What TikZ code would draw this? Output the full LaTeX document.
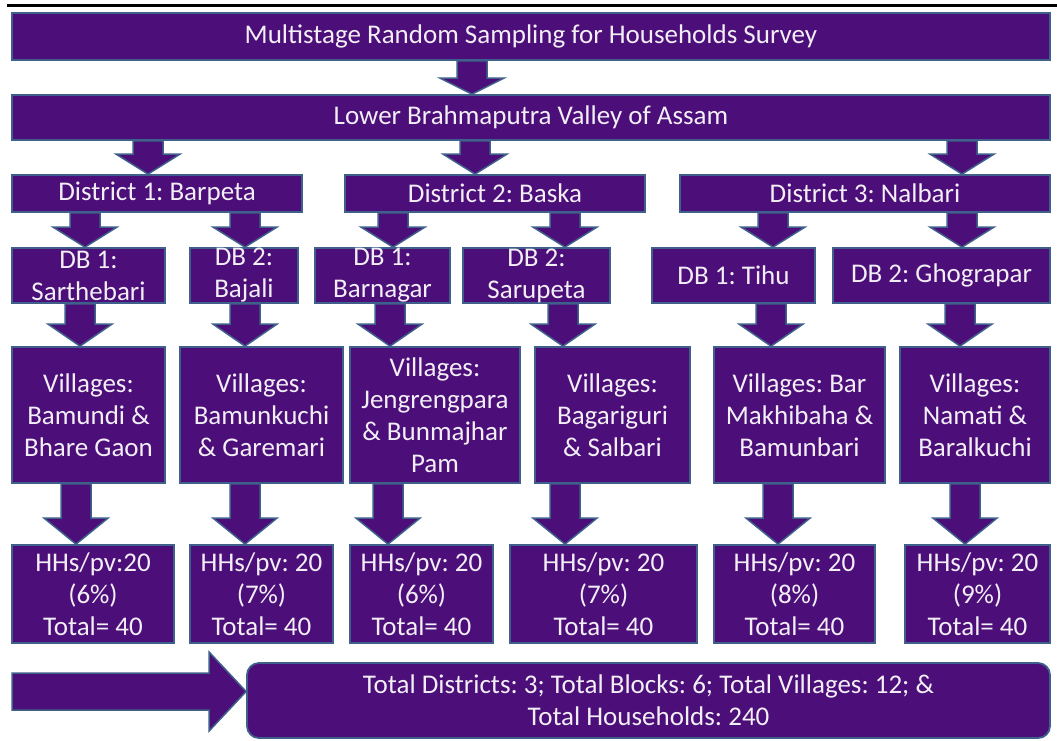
\documentclass[tikz,border=0pt]{standalone}
\usepackage{fontspec}
\setmainfont{Carlito}
\frenchspacing
\usetikzlibrary{calc}

\definecolor{boxfill}{RGB}{76,14,120}
\definecolor{boxline}{RGB}{62,96,138}
\definecolor{boxtext}{RGB}{242,238,246}

\tikzset{
  cell/.style={draw=boxline, fill=boxfill, line width=1.8pt, text=boxtext,
    align=center, inner sep=0pt, font=\fontsize{27}{32}\selectfont},
  flow/.style={draw=boxline, fill=boxfill, line width=1.5pt, line join=miter}
}

% block arrow pointing down: x, from node, to node, head length
\newcommand{\flowdown}[4]{%
  \draw[flow] let \p1=(#1,0 |- #2.south), \p2=(#1,0 |- #3.north) in
    (\x1-15pt,\y1) -- (\x1-15pt,\y2+#4pt) -- (\x1-32pt,\y2+#4pt) -- (\x1,\y2)
    -- (\x1+32pt,\y2+#4pt) -- (\x1+15pt,\y2+#4pt) -- (\x1+15pt,\y1) -- cycle;
}

\begin{document}
\begin{tikzpicture}[x=1pt, y=-1pt]
  \useasboundingbox (0,0) rectangle (1057,740);
  \draw[line width=3pt] (7,5.5) -- (1057,5.5);

  % levels
  \node[cell, minimum width=1038pt, minimum height=47pt] (survey) at (531,36.5) {Multistage Random Sampling for Households Survey};
  \node[cell, minimum width=1038pt, minimum height=45pt] (valley) at (531,117.5) {Lower Brahmaputra Valley of Assam};

  \node[cell, minimum width=290pt, minimum height=37pt] (barpeta) at (157,193.5) {District 1: Barpeta};
  \node[cell, minimum width=300pt, minimum height=37pt] (baska) at (495,193.5) {District 2: Baska};
  \node[cell, minimum width=370pt, minimum height=37pt] (nalbari) at (865,193.5) {District 3: Nalbari};

  \node[cell, minimum width=153pt, minimum height=55pt] (sarthebari) at (88.5,275.5) {DB 1:\\Sarthebari};
  \node[cell, minimum width=108pt, minimum height=55pt] (bajali) at (244,275.5) {DB 2:\\Bajali};
  \node[cell, minimum width=135pt, minimum height=55pt] (barnagar) at (382.5,275.5) {DB 1:\\Barnagar};
  \node[cell, minimum width=147pt, minimum height=55pt] (sarupeta) at (536.5,275.5) {DB 2:\\Sarupeta};
  \node[cell, minimum width=163pt, minimum height=55pt] (tihu) at (733.5,275.5) {DB 1: Tihu};
  \node[cell, minimum width=217pt, minimum height=55pt] (ghograpar) at (941.5,275.5) {DB 2: Ghograpar};

  \node[cell, minimum width=153pt, minimum height=136pt] (vil1) at (88.5,415) {Villages:\\Bamundi \&\\Bhare Gaon};
  \node[cell, minimum width=163pt, minimum height=136pt] (vil2) at (261.5,415) {Villages:\\Bamunkuchi\\\& Garemari};
  \node[cell, minimum width=170pt, minimum height=136pt] (vil3) at (435,415) {Villages:\\Jengrengpara\\\& Bunmajhar\\Pam};
  \node[cell, minimum width=155pt, minimum height=136pt] (vil4) at (612.5,415) {Villages:\\Bagariguri\\\& Salbari};
  \node[cell, minimum width=171pt, minimum height=136pt] (vil5) at (799.5,415) {Villages: Bar\\Makhibaha \&\\Bamunbari};
  \node[cell, minimum width=150pt, minimum height=136pt] (vil6) at (975,415) {Villages:\\Namati \&\\Baralkuchi};

  \node[cell, minimum width=162pt, minimum height=98pt] (hh1) at (93,594) {HHs/pv:20\\(6\%)\\Total= 40};
  \node[cell, minimum width=143pt, minimum height=98pt] (hh2) at (261.5,594) {HHs/pv: 20\\(7\%)\\Total= 40};
  \node[cell, minimum width=143pt, minimum height=98pt] (hh3) at (421.5,594) {HHs/pv: 20\\(6\%)\\Total= 40};
  \node[cell, minimum width=187pt, minimum height=98pt] (hh4) at (603.5,594) {HHs/pv: 20\\(7\%)\\Total= 40};
  \node[cell, minimum width=161pt, minimum height=98pt] (hh5) at (794.5,594) {HHs/pv: 20\\(8\%)\\Total= 40};
  \node[cell, minimum width=145pt, minimum height=98pt] (hh6) at (977.5,594) {HHs/pv: 20\\(9\%)\\Total= 40};

  \node[cell, rounded corners=12pt, minimum width=803pt, minimum height=75pt] (total) at (648.5,700.5) {Total Districts: 3; Total Blocks: 6; Total Villages: 12; \&\\Total Households: 240};

  % arrows
  \flowdown{472}{survey}{valley}{16}
  \flowdown{148}{valley}{barpeta}{20}
  \flowdown{475}{valley}{baska}{20}
  \flowdown{962}{valley}{nalbari}{20}

  \flowdown{85}{barpeta}{sarthebari}{20}
  \flowdown{245}{barpeta}{bajali}{20}
  \flowdown{393}{baska}{barnagar}{20}
  \flowdown{565}{baska}{sarupeta}{20}
  \flowdown{773}{nalbari}{tihu}{20}
  \flowdown{962}{nalbari}{ghograpar}{20}

  \flowdown{80}{sarthebari}{vil1}{22}
  \flowdown{245}{bajali}{vil2}{22}
  \flowdown{390}{barnagar}{vil3}{22}
  \flowdown{563}{sarupeta}{vil4}{22}
  \flowdown{771}{tihu}{vil5}{22}
  \flowdown{960}{ghograpar}{vil6}{22}

  \flowdown{76}{vil1}{hh1}{26}
  \flowdown{245}{vil2}{hh2}{26}
  \flowdown{388}{vil3}{hh3}{26}
  \flowdown{565}{vil4}{hh4}{26}
  \flowdown{778}{vil5}{hh5}{26}
  \flowdown{965}{vil6}{hh6}{26}

  \coordinate (feed) at (12,691.5);
  \draw[flow] let \p1=(feed), \p2=(feed -| total.west) in
    (\x1,\y1+18.5pt) -- (\x2-37pt,\y1+18.5pt) -- (\x2-37pt,\y1+39.5pt) -- (\x2,\y1)
    -- (\x2-37pt,\y1-39.5pt) -- (\x2-37pt,\y1-18.5pt) -- (\x1,\y1-18.5pt) -- cycle;
\end{tikzpicture}
\end{document}
